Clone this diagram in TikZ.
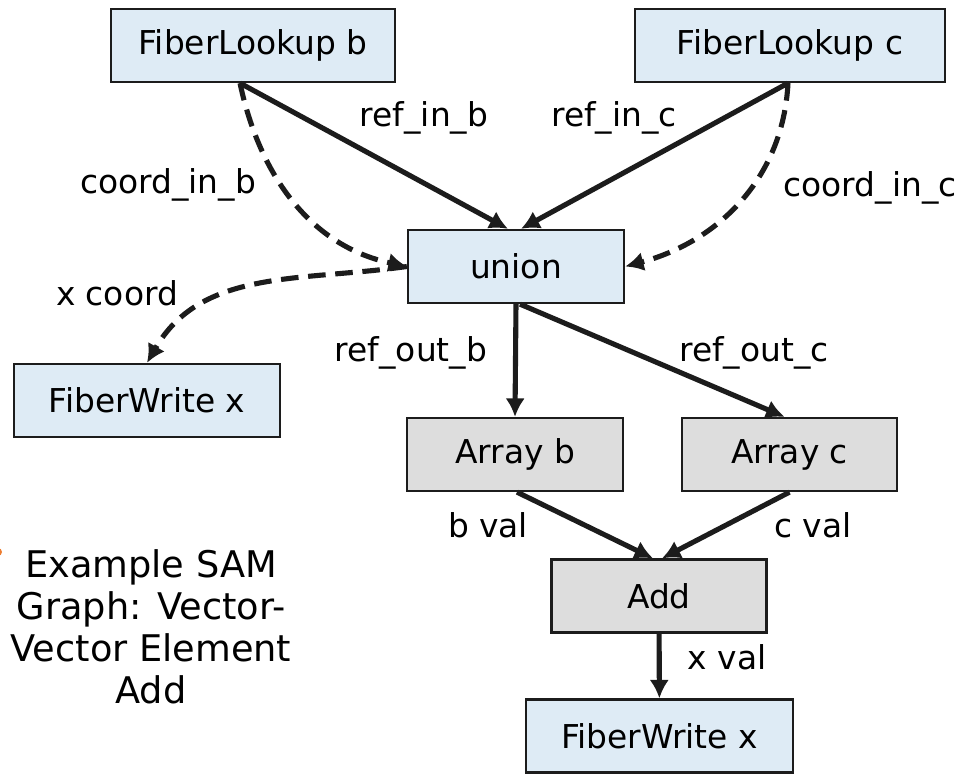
\documentclass[tikz,border=0pt]{standalone}
\usepackage{fontspec}
\setmainfont{DejaVu Sans}
\usetikzlibrary{arrows.meta}
\definecolor{lookupblue}{RGB}{222,235,245}
\definecolor{arraygrey}{RGB}{221,221,221}
\definecolor{edgeblack}{RGB}{28,28,28}
\definecolor{bulletorange}{RGB}{237,125,49}
\tikzset{
  blk/.style={draw=edgeblack, line width=1.3pt, minimum height=1.46cm, inner sep=0pt},
  lookup/.style={blk, fill=lookupblue},
  arr/.style={blk, fill=arraygrey},
  flow/.style={draw=edgeblack, line width=2.9pt, -{Latex[length=10.5pt,width=11pt]}},
  crd/.style={flow, dash pattern=on 10pt off 5.5pt}
}

\begin{document}
\begin{tikzpicture}[x=0.02cm, y=0.02cm, font=\fontsize{18.7}{22}\selectfont]
\useasboundingbox (0,0) rectangle (961,-774);
% boxes
\node[lookup, minimum width=5.68cm] (fb) at (253,-45.5) {FiberLookup b};
\node[lookup, minimum width=6.2cm] (fc) at (790,-45.5) {FiberLookup c};
\node[lookup, minimum width=4.32cm] (un) at (516,-266.5) {union};
\node[lookup, minimum width=5.32cm] (fwl) at (147,-400.5) {FiberWrite x};
\node[arr, minimum width=4.32cm] (ab) at (515,-454.5) {Array b};
\node[arr, minimum width=4.3cm] (ac) at (789.5,-454.5) {Array c};
\node[arr, minimum width=4.3cm] (add) at (659,-596) {Add};
\node[lookup, minimum width=5.34cm] (fwx) at (659.5,-736) {FiberWrite x};
% edges
\draw[flow] ([xshift=-0.26cm]fb.south) -- ([xshift=-0.16cm]un.north);
\draw[flow] ([xshift=-0.04cm]fc.south) -- ([xshift=0.1cm]un.north);
\draw[crd] ([xshift=-0.26cm]fb.south) to[out=-78,in=168] (un.west);
\draw[crd] ([xshift=-0.04cm]fc.south) to[out=-93,in=15] (un.east);
\draw[crd] (un.west) to[out=188,in=60] (fwl.north);
\draw[flow] (un.south) -- (ab.north);
\draw[flow] ([xshift=0.08cm]un.south) -- ([xshift=-0.1cm]ac.north);
\draw[flow] ([xshift=0.04cm]ab.south) -- ([xshift=-0.12cm]add.north);
\draw[flow] (ac.south) -- ([xshift=0.06cm]add.north);
\draw[flow] (add) -- (fwx);
% labels
\node (lrib) at (424,-118) {ref\_in\_b};
\node (lric) at (614,-118) {ref\_in\_c};
\node (lcib) at (168,-185) {coord\_in\_b};
\node (lcic) at (870,-188) {coord\_in\_c};
\node (lxc) at (117,-293) {x coord};
\node (lrob) at (411,-353) {ref\_out\_b};
\node (lroc) at (754,-353) {ref\_out\_c};
\node (lbv) at (488,-525) {b val};
\node (lcv) at (813,-525) {c val};
\node (lxv) at (727,-657) {x val};
% caption
\fill[bulletorange] (-2,-552) circle (4);
\node[align=center, font=\fontsize{20.9}{23.8}\selectfont] (cap) at (151,-627) {Example SAM\\Graph: Vector-\\Vector Element\\Add};
\end{tikzpicture}
\end{document}
